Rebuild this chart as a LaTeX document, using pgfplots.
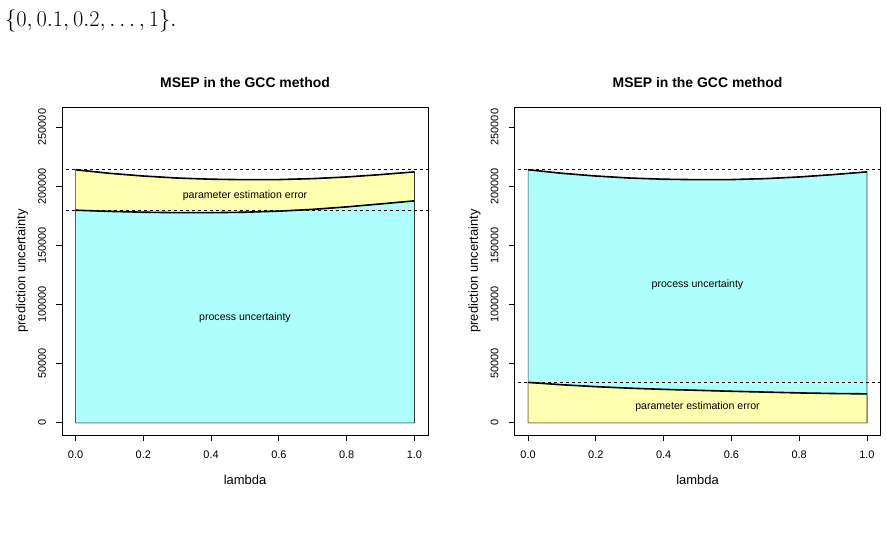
\RequirePackage{fix-cm}
\documentclass[border=0pt]{standalone}
\usepackage{fontspec}
\setmainfont{Liberation Sans}
\usepackage{pgfplots}
\pgfplotsset{compat=1.18}
\usepackage{pgfplotstable}

\definecolor{pyellow}{RGB}{255,255,176}
\definecolor{pcyan}{RGB}{176,255,255}

% lambda, total MSEP, parameter estimation error, process uncertainty
\pgfplotstableread{
lambda total pee proc
0.0 214000 34200 179800
0.1 211000 32200 178800
0.2 208700 30600 178100
0.3 207000 29300 177700
0.4 206000 28300 177700
0.5 205600 27500 178100
0.6 205700 26700 179000
0.7 206500 26000 180500
0.8 207900 25300 182600
0.9 209900 24800 185100
1.0 212200 24500 187700
}\msep

\tikzset{
  edge/.style={draw=black!80, line width=0.6bp},
  curve/.style={black, line width=1.6bp},
  ref/.style={black, line width=0.7bp, dash pattern=on 3bp off 3bp},
  inlabel/.style={font=\fontsize{10.6}{12}\selectfont},
}

\pgfplotsset{
  msepaxis/.style={
    scale only axis, width=366bp, height=328bp,
    anchor=south west,
    xmin=-0.04, xmax=1.04, ymin=-10272, ymax=267072,
    axis line style={line width=0.8bp},
    every tick/.style={black, line width=0.8bp},
    tick align=outside, xtick pos=bottom, ytick pos=left,
    major tick length=6bp,
    xtick={0,0.2,0.4,0.6,0.8,1},
    ytick={0,50000,100000,150000,200000,250000},
    /pgf/number format/assume math mode=true,
    xticklabel style={/pgf/number format/fixed, /pgf/number format/fixed zerofill,
      /pgf/number format/precision=1, font=\fontsize{11}{13}\selectfont,
      anchor=center, yshift=-14bp},
    yticklabel style={/pgf/number format/fixed, /pgf/number format/1000 sep={},
      font=\fontsize{11}{13}\selectfont, xshift=-14bp, rotate=90, anchor=center},
    scaled y ticks=false,
    title style={at={(rel axis cs:0.5,1)}, anchor=center, yshift=18bp,
      font=\fontsize{14}{16}\selectfont\bfseries},
    every axis x label/.style={at={(rel axis cs:0.5,0)}, anchor=center, yshift=-45bp,
      font=\fontsize{13}{15}\selectfont},
    every axis y label/.style={at={(rel axis cs:0,0.5)}, anchor=center, xshift=-40bp,
      rotate=90, font=\fontsize{13}{15}\selectfont},
    title={MSEP in the GCC method},
    xlabel={lambda}, ylabel={prediction uncertainty},
    clip=true,
  },
}

\begin{document}
\begin{tikzpicture}[x=1bp,y=1bp]
\path[use as bounding box] (0,0) rectangle (887,541);
\node[anchor=west, inner sep=0pt] at (5,520)
  {\fontsize{22.5}{26}\selectfont $\{0, 0.1, 0.2, \ldots, 1\}.$};

% left panel: process uncertainty at the bottom
\begin{axis}[msepaxis, at={(62bp,106bp)}]
  \addplot[fill=pyellow, edge] table[x=lambda, y=total] {\msep} \closedcycle;
  \addplot[fill=pcyan, edge] table[x=lambda, y=proc] {\msep} \closedcycle;
  \addplot[curve] table[x=lambda, y=total] {\msep};
  \addplot[curve] table[x=lambda, y=proc] {\msep};
  \addplot[ref] coordinates {(-0.1,214000) (1.1,214000)};
  \addplot[ref] coordinates {(-0.1,179800) (1.1,179800)};
  \node[inlabel] at (axis cs:0.5,191850) {parameter estimation error};
  \node[inlabel] at (axis cs:0.5,89050) {process uncertainty};
\end{axis}

% right panel: parameter estimation error at the bottom
\begin{axis}[msepaxis, at={(514.5bp,106bp)}]
  \addplot[fill=pcyan, edge] table[x=lambda, y=total] {\msep} \closedcycle;
  \addplot[fill=pyellow, edge] table[x=lambda, y=pee] {\msep} \closedcycle;
  \addplot[curve] table[x=lambda, y=total] {\msep};
  \addplot[curve] table[x=lambda, y=pee] {\msep};
  \addplot[ref] coordinates {(-0.1,214000) (1.1,214000)};
  \addplot[ref] coordinates {(-0.1,34200) (1.1,34200)};
  \node[inlabel] at (axis cs:0.5,116550) {process uncertainty};
  \node[inlabel] at (axis cs:0.5,13750) {parameter estimation error};
\end{axis}
\end{tikzpicture}
\end{document}
